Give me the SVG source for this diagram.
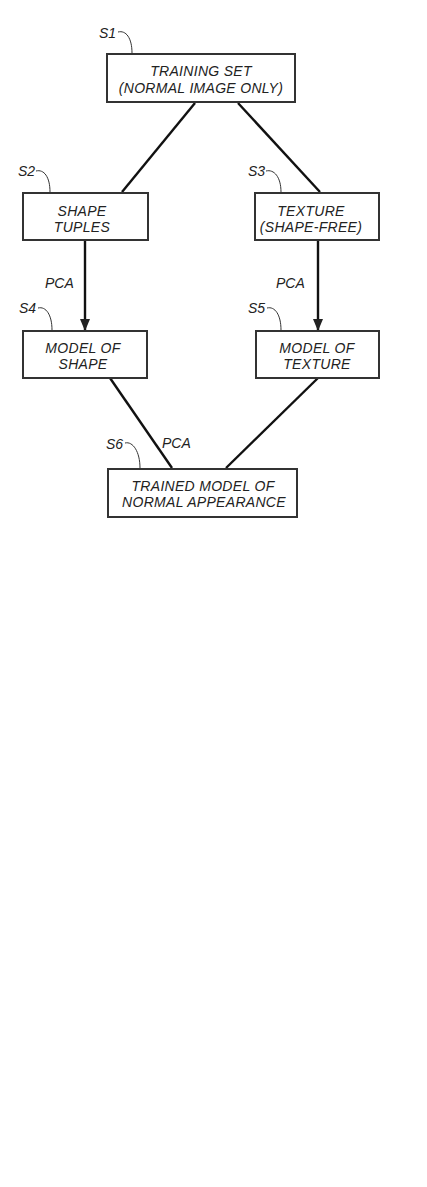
<svg xmlns="http://www.w3.org/2000/svg" width="427" height="1187" viewBox="0 0 427 1187">
<style>
.box{fill:#fff;stroke:#333;stroke-width:2}
.t{font-family:"Liberation Sans",Arial,sans-serif;font-style:italic;font-size:14px;letter-spacing:0.3px;fill:#222;text-anchor:middle}
.lbl{font-family:"Liberation Sans",Arial,sans-serif;font-style:italic;font-size:14px;fill:#222}
.c{fill:none;stroke:#111;stroke-width:2.4}
.lead{fill:none;stroke:#333;stroke-width:1}
</style>
<defs>
<marker id="ah" markerWidth="12" markerHeight="10" refX="11" refY="5" orient="auto" markerUnits="userSpaceOnUse">
<path d="M0,0 L12,5 L0,10 Z" fill="#222"/>
</marker>
</defs>
<rect width="427" height="1187" fill="#fff"/>
<g id="connectors">
<line class="c" x1="195" y1="103" x2="122" y2="192"/>
<line class="c" x1="238" y1="103" x2="320" y2="192"/>
<line class="c" x1="85" y1="241" x2="85" y2="330" marker-end="url(#ah)"/>
<line class="c" x1="318" y1="241" x2="318" y2="330" marker-end="url(#ah)"/>
<line class="c" x1="110" y1="378" x2="172" y2="468"/>
<line class="c" x1="318" y1="378" x2="226" y2="468"/>
<text class="lbl" x="45" y="288">PCA</text>
<text class="lbl" x="276" y="288">PCA</text>
<text class="lbl" x="162" y="448">PCA</text>
</g>
<g id="S1">
<text class="lbl" x="99" y="38">S1</text>
<path class="lead" d="M118,32 C126,30 132,38 132,53"/>
<rect class="box" x="107" y="54" width="188" height="48"/>
<text class="t" x="201" y="76">TRAINING SET</text>
<text class="t" x="201" y="93">(NORMAL IMAGE ONLY)</text>
</g>
<g id="S2">
<text class="lbl" x="18" y="176">S2</text>
<path class="lead" d="M36,171 C44,169 50,177 50,192"/>
<rect class="box" x="23" y="193" width="125" height="47"/>
<text class="t" x="82" y="216">SHAPE</text>
<text class="t" x="82" y="232">TUPLES</text>
</g>
<g id="S3">
<text class="lbl" x="248" y="176">S3</text>
<path class="lead" d="M266,171 C274,169 281,177 281,192"/>
<rect class="box" x="255" y="193" width="124" height="47"/>
<text class="t" x="311" y="216">TEXTURE</text>
<text class="t" x="311" y="232">(SHAPE-FREE)</text>
</g>
<g id="S4">
<text class="lbl" x="19" y="313">S4</text>
<path class="lead" d="M38,308 C46,306 52,315 52,330"/>
<rect class="box" x="23" y="331" width="124" height="47"/>
<text class="t" x="83" y="353">MODEL OF</text>
<text class="t" x="83" y="369">SHAPE</text>
</g>
<g id="S5">
<text class="lbl" x="248" y="313">S5</text>
<path class="lead" d="M267,308 C275,306 281,315 281,330"/>
<rect class="box" x="256" y="331" width="123" height="47"/>
<text class="t" x="317" y="353">MODEL OF</text>
<text class="t" x="317" y="369">TEXTURE</text>
</g>
<g id="S6">
<text class="lbl" x="106" y="449">S6</text>
<path class="lead" d="M125,443 C133,441 140,452 140,468"/>
<rect class="box" x="108" y="469" width="189" height="48"/>
<text class="t" x="203" y="491">TRAINED MODEL OF</text>
<text class="t" x="204" y="507">NORMAL APPEARANCE</text>
</g>
</svg>
